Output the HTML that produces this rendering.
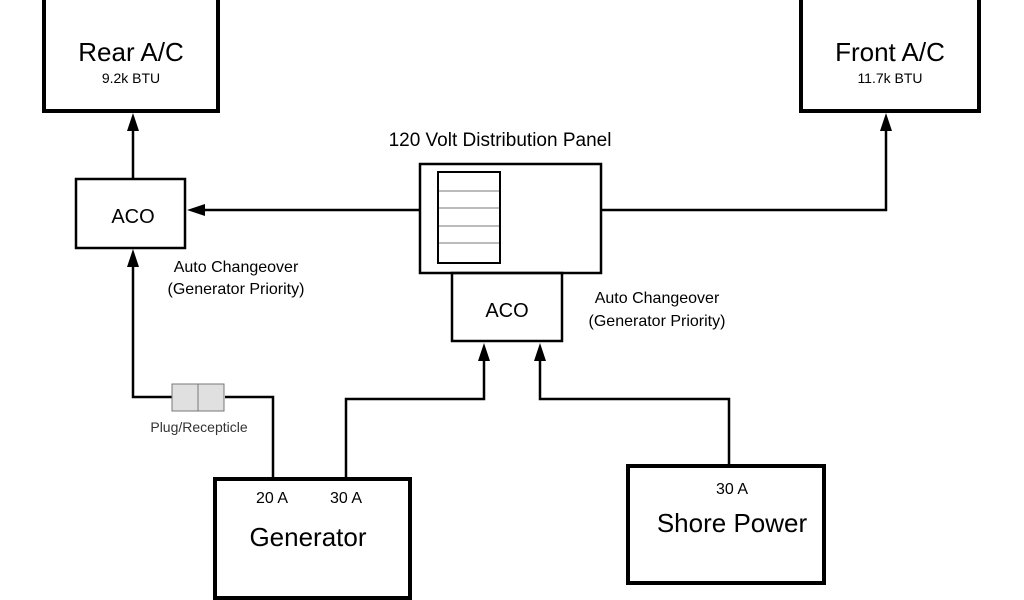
<!DOCTYPE html>
<html><head><style>
body{margin:0;background:#fff;}
svg{display:block;font-family:"Liberation Sans",sans-serif;}
</style></head><body>
<svg width="1024" height="600" viewBox="0 0 1024 600">
<defs><marker id="a" markerWidth="10" markerHeight="12" refX="9" refY="6" orient="auto" markerUnits="userSpaceOnUse"><path d="M0,0 L18,6 L0,12 z" fill="#000" transform="scale(0.5,1)"/></marker></defs>
<g fill="none" stroke="#000">
<rect x="44" y="-10" width="174" height="121" stroke-width="4"/>
<rect x="801" y="-10" width="178" height="121" stroke-width="4"/>
<rect x="76" y="179" width="109" height="69" stroke-width="2.5"/>
<rect x="420" y="164" width="181" height="109" stroke-width="2.5"/>
<rect x="438" y="172" width="62" height="91" stroke-width="2"/>
<rect x="452" y="273" width="110" height="68" stroke-width="2.5"/>
<rect x="215" y="479" width="195" height="119" stroke-width="4"/>
<rect x="628" y="466" width="196" height="117" stroke-width="4"/>
</g>
<g stroke="#777" stroke-width="1"><line x1="439" y1="191" x2="499" y2="191"/><line x1="439" y1="208" x2="499" y2="208"/><line x1="439" y1="226" x2="499" y2="226"/><line x1="439" y1="243" x2="499" y2="243"/></g>
<g fill="none" stroke="#000" stroke-width="2.5">
<line x1="133" y1="179" x2="133" y2="126"/>
<path d="M133,113 l-6,18 h12 z" fill="#000" stroke="none"/>
<line x1="420" y1="210" x2="200" y2="210"/>
<path d="M187,210 l18,-6 v12 z" fill="#000" stroke="none"/>
<polyline points="601,210 886,210 886,126"/>
<path d="M886,113 l-6,18 h12 z" fill="#000" stroke="none"/>
<polyline points="273,479 273,397 225,397"/>
<polyline points="172,397 133,397 133,262"/>
<path d="M133,249 l-6,18 h12 z" fill="#000" stroke="none"/>
<polyline points="346,479 346,399 484,399 484,356"/>
<path d="M484,343 l-6,18 h12 z" fill="#000" stroke="none"/>
<polyline points="729,466 729,399 540,399 540,356"/>
<path d="M540,343 l-6,18 h12 z" fill="#000" stroke="none"/>
</g>
<rect x="172" y="384" width="26" height="27" fill="#e0e0e0" stroke="#777"/>
<rect x="198" y="384" width="26" height="27" fill="#e0e0e0" stroke="#777"/>
<g fill="#000">
<text x="131" y="61" font-size="26" text-anchor="middle">Rear A/C</text>
<text x="131" y="83" font-size="14" text-anchor="middle">9.2k BTU</text>
<text x="890" y="61" font-size="26" text-anchor="middle">Front A/C</text>
<text x="890" y="83" font-size="14" text-anchor="middle">11.7k BTU</text>
<text x="133" y="223" font-size="20" text-anchor="middle">ACO</text>
<text x="507" y="317" font-size="20" text-anchor="middle">ACO</text>
<text x="500" y="146" font-size="19" text-anchor="middle">120 Volt Distribution Panel</text>
<text x="236" y="272" font-size="16" text-anchor="middle">Auto Changeover</text>
<text x="236" y="294" font-size="16" text-anchor="middle">(Generator Priority)</text>
<text x="657" y="303" font-size="16" text-anchor="middle">Auto Changeover</text>
<text x="657" y="326" font-size="16" text-anchor="middle">(Generator Priority)</text>
<text x="199" y="432" font-size="14" text-anchor="middle" fill="#333">Plug/Recepticle</text>
<text x="272" y="503" font-size="16" text-anchor="middle">20 A</text>
<text x="346" y="503" font-size="16" text-anchor="middle">30 A</text>
<text x="308" y="546" font-size="26" text-anchor="middle">Generator</text>
<text x="732" y="494" font-size="16" text-anchor="middle">30 A</text>
<text x="732" y="532" font-size="26" text-anchor="middle">Shore Power</text>
</g>
</svg>
</body></html>
